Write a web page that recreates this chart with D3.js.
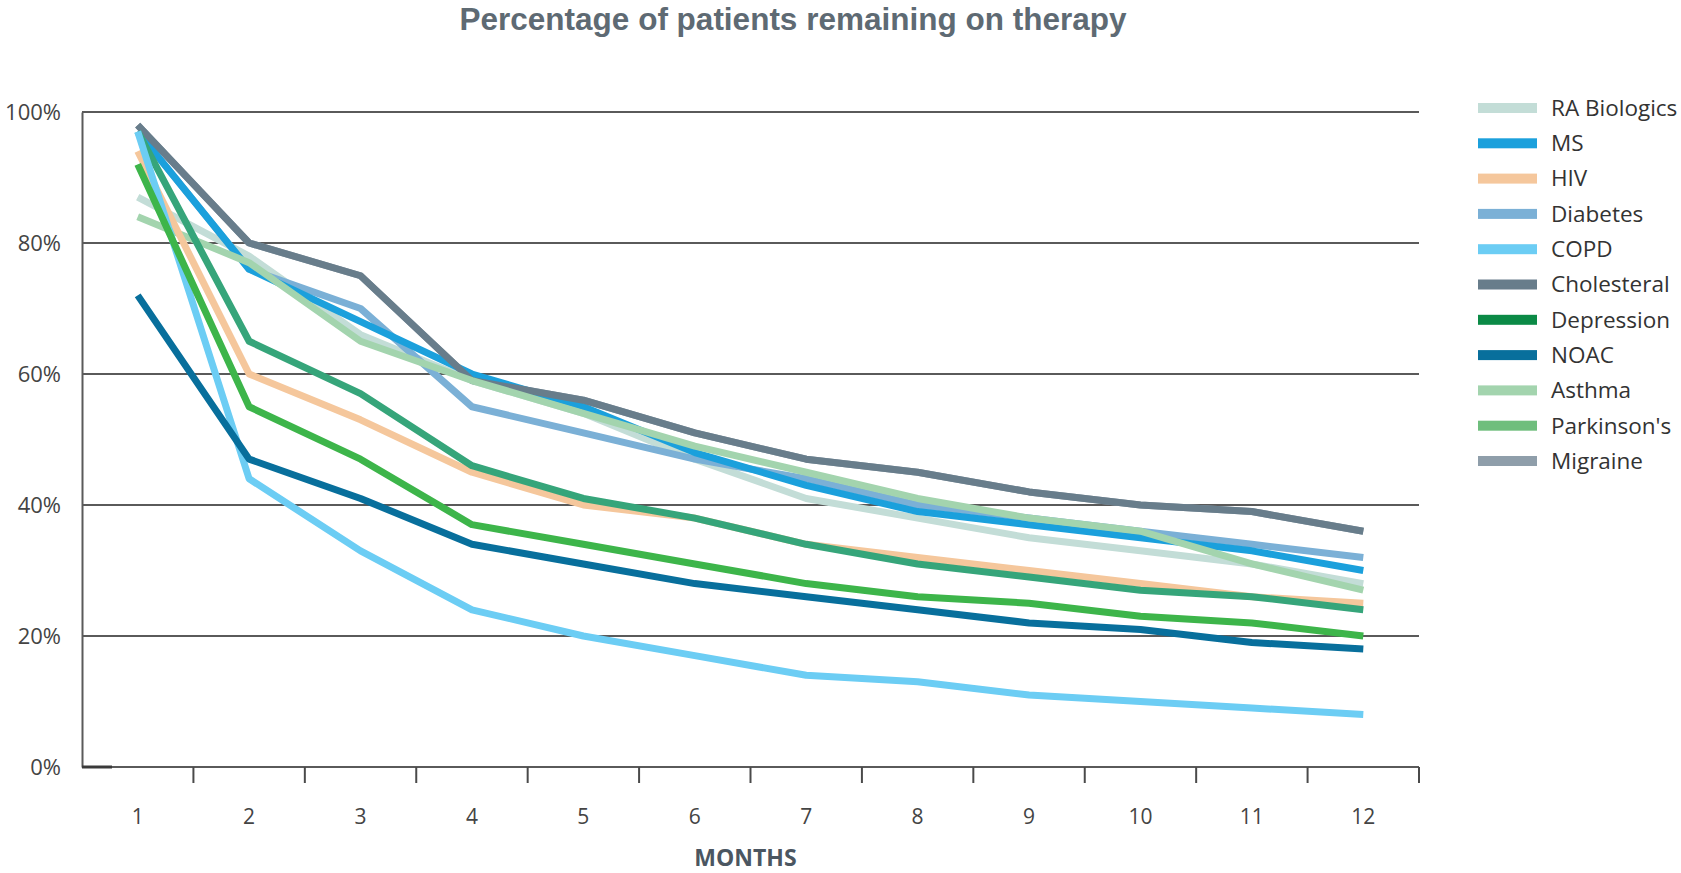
<!DOCTYPE html>
<html>
<head>
<meta charset="utf-8">
<script src="https://cdn.jsdelivr.net/npm/d3@7"></script>
<style>
  html, body { margin: 0; padding: 0; background: #ffffff; }
  svg { display: block; }
</style>
</head>
<body>
<svg id="chart" width="1681" height="873"></svg>
<script>
// Months on the x axis
const months = [1, 2, 3, 4, 5, 6, 7, 8, 9, 10, 11, 12];

// Share of patients still on therapy (%) per month
const raBiologics = [87, 78, 66, 59, 54, 47, 41, 38, 35, 33, 31, 28];
const ms          = [97, 76, 68, 60, 55, 48, 43, 39, 37, 35, 33, 30];
const hiv         = [94, 60, 53, 45, 40, 38, 34, 32, 30, 28, 26, 25];
const diabetes    = [97, 76, 70, 55, 51, 47, 44, 40, 38, 36, 34, 32];
const copd        = [97, 44, 33, 24, 20, 17, 14, 13, 11, 10, 9, 8];
const cholesteral = [98, 80, 75, 59, 56, 51, 47, 45, 42, 40, 39, 36];
const depression  = [97, 65, 57, 46, 41, 38, 34, 31, 29, 27, 26, 24];
const noac        = [72, 47, 41, 34, 31, 28, 26, 24, 22, 21, 19, 18];
const asthma      = [84, 77, 65, 59, 54, 49, 45, 41, 38, 36, 31, 27];
const parkinsons  = [92, 55, 47, 37, 34, 31, 28, 26, 25, 23, 22, 20];
const migraine    = [98, 80, 75, 59, 56, 51, 47, 45, 42, 40, 39, 36];

// Legend order
const seriesNames = ["RA Biologics", "MS", "HIV", "Diabetes", "COPD", "Cholesteral",
                     "Depression", "NOAC", "Asthma", "Parkinson's", "Migraine"];
const seriesValues = [raBiologics, ms, hiv, diabetes, copd, cholesteral,
                      depression, noac, asthma, parkinsons, migraine];

// Y-axis ticks (%)
const yTicks = [0, 20, 40, 60, 80, 100];

// Line colours and legend swatch colours
const lineColors = ["#c3ddd7", "#1ba0dc", "#f5c79c", "#7bb0d6", "#6ccdf4", "#687d8b",
                    "#36a57a", "#086f9c", "#a3d4ae", "#3db54a", "#8f9eaa"];
const swatchColors = ["#c3ddd7", "#1ba0dc", "#f5c79c", "#7bb0d6", "#6ccdf4", "#687d8b",
                      "#0b8a46", "#086f9c", "#a3d4ae", "#6fbe7d", "#8f9eaa"];

// Painting order (bottom to top)
const drawOrder = ["Migraine", "RA Biologics", "Diabetes", "MS", "Cholesteral", "Asthma",
                   "HIV", "Depression", "COPD", "NOAC", "Parkinson's"];

const series = seriesNames.map((name, i) => ({
  name,
  values: seriesValues[i],
  color: lineColors[i],
  swatch: swatchColors[i]
}));

const svg = d3.select("#chart");
const plot = { left: 82, right: 1419, top: 112, bottom: 767 };

const x = d3.scaleBand().domain(months).range([plot.left, plot.right]);
const y = d3.scaleLinear().domain([0, 100]).range([plot.bottom, plot.top]);

// Title
svg.append("text")
  .attr("x", 793)
  .attr("y", 30)
  .attr("text-anchor", "middle")
  .attr("font-family", "'Liberation Sans', Arial, sans-serif")
  .attr("font-weight", "bold")
  .attr("font-size", 31.5)
  .attr("fill", "#5e6a73")
  .text("Percentage of patients remaining on therapy");

// Horizontal grid lines
svg.append("g")
  .selectAll("line")
  .data(yTicks.filter(t => t > 0))
  .join("line")
  .attr("x1", plot.left)
  .attr("x2", plot.right)
  .attr("y1", d => y(d))
  .attr("y2", d => y(d))
  .attr("stroke", "#5a5a5a")
  .attr("stroke-width", 2);

// Y axis
const yAxis = svg.append("g")
  .attr("transform", `translate(${plot.left},0)`)
  .call(d3.axisLeft(y).tickValues(yTicks).tickSize(0).tickPadding(21).tickFormat(d => d + "%"));
yAxis.select(".domain").attr("stroke", "#5a5a5a").attr("stroke-width", 2);
yAxis.selectAll("text")
  .attr("font-family", "'Open Sans', 'Noto Sans', sans-serif")
  .attr("font-size", 22)
  .attr("fill", "#444444");

// X axis: ticks sit on the band boundaries, labels at band centres
const xAxisG = svg.append("g").attr("transform", `translate(0,${plot.bottom})`);
xAxisG.append("line")
  .attr("x1", plot.left).attr("x2", plot.right)
  .attr("stroke", "#5a5a5a").attr("stroke-width", 2);
xAxisG.append("line")
  .attr("x1", plot.left).attr("x2", plot.left + 30)
  .attr("stroke", "#3a3a3a").attr("stroke-width", 3);
xAxisG.selectAll("line.tick")
  .data(months.slice(1).map(m => x(m)).concat([plot.right]))
  .join("line")
  .attr("class", "tick")
  .attr("x1", d => d).attr("x2", d => d)
  .attr("y1", 0).attr("y2", 16)
  .attr("stroke", "#4a4a4a").attr("stroke-width", 2);
xAxisG.selectAll("text")
  .data(months)
  .join("text")
  .attr("x", d => x(d) + x.bandwidth() / 2)
  .attr("y", 57)
  .attr("text-anchor", "middle")
  .attr("font-family", "'Open Sans', 'Noto Sans', sans-serif")
  .attr("font-size", 21)
  .attr("fill", "#444444")
  .text(d => d);

// X-axis title
svg.append("text")
  .attr("x", (plot.left + plot.right) / 2 - 5)
  .attr("y", 866)
  .attr("text-anchor", "middle")
  .attr("font-family", "'Open Sans', 'Noto Sans', sans-serif")
  .attr("font-weight", "bold")
  .attr("font-size", 23)
  .attr("fill", "#4b5661")
  .text("MONTHS");

// Lines
const line = d3.line()
  .x((d, i) => x(months[i]) + x.bandwidth() / 2)
  .y(d => y(d));

const byName = new Map(series.map(s => [s.name, s]));
svg.append("g")
  .selectAll("path")
  .data(drawOrder.map(n => byName.get(n)))
  .join("path")
  .attr("d", d => line(d.values))
  .attr("fill", "none")
  .attr("stroke", d => d.color)
  .attr("stroke-width", 7)
  .attr("stroke-linejoin", "round");

// Legend
const legend = svg.append("g").attr("transform", "translate(1478,108)");
const rows = legend.selectAll("g")
  .data(series)
  .join("g")
  .attr("transform", (d, i) => `translate(0,${i * 35.3})`);
rows.append("rect")
  .attr("x", 0).attr("y", -5)
  .attr("width", 59).attr("height", 10)
  .attr("fill", d => d.swatch);
rows.append("text")
  .attr("x", 73)
  .attr("y", 0)
  .attr("dy", "0.35em")
  .attr("font-family", "'Open Sans', 'Noto Sans', sans-serif")
  .attr("font-size", 22.5)
  .attr("fill", "#333333")
  .text(d => d.name);
</script>
</body>
</html>
